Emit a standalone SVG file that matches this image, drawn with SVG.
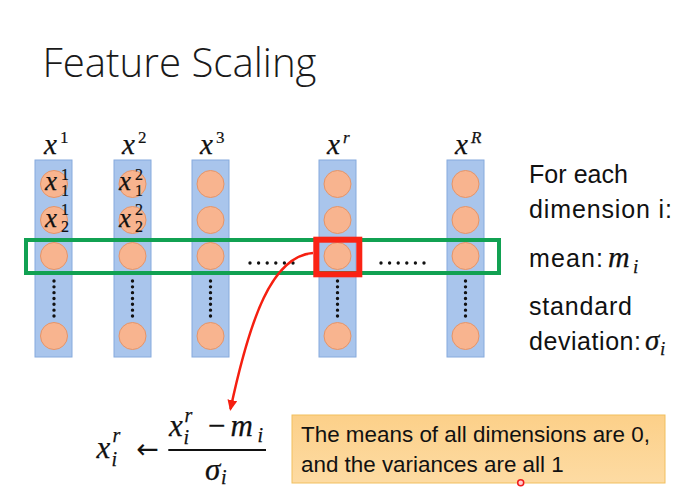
<svg xmlns="http://www.w3.org/2000/svg" width="691" height="499" viewBox="0 0 691 499">
<defs>
<style>
.bar{fill:#a9c5ec;stroke:#86aadd;stroke-width:1}
.node{fill:#f8b48f;stroke:#e59468;stroke-width:1}
.vdots{stroke:#111;stroke-width:3.4;stroke-linecap:round;stroke-dasharray:0 5.83}
.hdots{stroke:#111;stroke-width:3.4;stroke-linecap:round;stroke-dasharray:0 8.6}
.math{font-family:"Liberation Serif","DejaVu Serif",serif;font-style:italic;fill:#111;stroke:#111;stroke-width:0.25}
.num{font-family:"Liberation Serif","DejaVu Serif",serif;font-style:normal;fill:#111;stroke:#111;stroke-width:0.2}
.txt{font-family:"Liberation Sans",Arial,sans-serif;fill:#111}
.lbl{font-size:29px}
.sup{font-size:17px}
.nl{font-size:27px}
.ns{font-size:16px}
</style>
<marker id="ah" markerWidth="11" markerHeight="10" refX="9" refY="5" orient="auto" markerUnits="userSpaceOnUse">
<path d="M0,0 L11,5 L0,10 z" fill="#f51f10"/>
</marker>
<linearGradient id="yg" x1="0" y1="0" x2="0" y2="1">
<stop offset="0" stop-color="#fcd089"/>
<stop offset="1" stop-color="#fddba3"/>
</linearGradient>
</defs>
<rect width="691" height="499" fill="#ffffff"/>

<g id="title">
<text x="42.5" y="76.5" font-size="40" font-weight="300" font-family="'Open Sans','Liberation Sans',sans-serif" textLength="274" lengthAdjust="spacingAndGlyphs" fill="#1a1a1a">Feature Scaling</text>
</g>

<g id="col1">
<rect class="bar" x="35" y="160" width="37" height="197"/>
<circle class="node" cx="54" cy="184" r="13.5"/>
<circle class="node" cx="54" cy="220" r="13.5"/>
<circle class="node" cx="54" cy="256" r="13.5"/>
<circle class="node" cx="54" cy="336" r="13.5"/>
<line class="vdots" x1="54" y1="281" x2="54" y2="316.1"/>
<text class="math lbl" x="44" y="154">x</text><text class="num sup" x="60" y="143">1</text>
<text class="math nl" x="45" y="190">x</text><text class="num ns" x="61" y="180">1</text><text class="num ns" x="61" y="196">1</text>
<text class="math nl" x="45" y="226.5">x</text><text class="num ns" x="61" y="215">1</text><text class="num ns" x="61" y="231.5">2</text>
</g>

<g id="col2">
<rect class="bar" x="114" y="160" width="37" height="197"/>
<circle class="node" cx="132.5" cy="184" r="13.5"/>
<circle class="node" cx="132.5" cy="220" r="13.5"/>
<circle class="node" cx="132.5" cy="256" r="13.5"/>
<circle class="node" cx="132.5" cy="336" r="13.5"/>
<line class="vdots" x1="132.5" y1="281" x2="132.5" y2="316.1"/>
<text class="math lbl" x="122" y="154">x</text><text class="num sup" x="138" y="143">2</text>
<text class="math nl" x="119" y="190">x</text><text class="num ns" x="135" y="180">2</text><text class="num ns" x="135" y="196">1</text>
<text class="math nl" x="119" y="226.5">x</text><text class="num ns" x="135" y="215">2</text><text class="num ns" x="135" y="231.5">2</text>
</g>

<g id="col3">
<rect class="bar" x="192" y="160" width="37" height="197"/>
<circle class="node" cx="210.5" cy="184" r="13.5"/>
<circle class="node" cx="210.5" cy="220" r="13.5"/>
<circle class="node" cx="210.5" cy="256" r="13.5"/>
<circle class="node" cx="210.5" cy="336" r="13.5"/>
<line class="vdots" x1="210.5" y1="281" x2="210.5" y2="316.1"/>
<text class="math lbl" x="200" y="154">x</text><text class="num sup" x="216" y="143">3</text>
</g>

<g id="colr">
<rect class="bar" x="319" y="160" width="37" height="197"/>
<circle class="node" cx="337.5" cy="184" r="13.5"/>
<circle class="node" cx="337.5" cy="220" r="13.5"/>
<circle class="node" cx="337.5" cy="256" r="13.5"/>
<circle class="node" cx="337.5" cy="336" r="13.5"/>
<line class="vdots" x1="337.5" y1="281" x2="337.5" y2="316.1"/>
<text class="math lbl" x="327" y="154">x</text><text class="math sup" x="343" y="143">r</text>
</g>

<g id="colR">
<rect class="bar" x="447" y="160" width="37" height="197"/>
<circle class="node" cx="465.5" cy="184" r="13.5"/>
<circle class="node" cx="465.5" cy="220" r="13.5"/>
<circle class="node" cx="465.5" cy="256" r="13.5"/>
<circle class="node" cx="465.5" cy="336" r="13.5"/>
<line class="vdots" x1="465.5" y1="281" x2="465.5" y2="316.1"/>
<text class="math lbl" x="455" y="154">x</text><text class="math sup" x="471" y="143">R</text>
</g>

<g id="ellipses">
<line class="hdots" x1="250" y1="263" x2="293.2" y2="263"/>
<line class="hdots" x1="381" y1="263" x2="424.2" y2="263"/>
</g>

<g id="dimension-box">
<rect x="26" y="240" width="473" height="33" fill="none" stroke="#11a152" stroke-width="4"/>
</g>

<g id="selected">
<rect x="316.3" y="239.7" width="43" height="34.6" fill="none" stroke="#fa2314" stroke-width="6"/>
</g>

<g id="connectors">
<path d="M313,253 C272,256 250,318 230.5,409" fill="none" stroke="#f51f10" stroke-width="2.5" marker-end="url(#ah)"/>
</g>

<g id="formula">
<text class="math" x="96.5" y="458" font-size="31">x</text>
<text class="math" x="112.5" y="442" font-size="20">r</text>
<text class="math" x="111.5" y="466" font-size="20">i</text>
<text x="147.5" y="458" font-size="27" font-family="DejaVu Sans,sans-serif" text-anchor="middle" fill="#111">←</text>
<line x1="168.3" y1="450" x2="266" y2="450" stroke="#111" stroke-width="1.8"/>
<text class="math" x="169" y="436" font-size="31">x</text>
<text class="math" x="184.5" y="422" font-size="20">r</text>
<text class="math" x="183.5" y="444" font-size="20">i</text>
<text x="216.7" y="436" font-size="31" font-family="Liberation Serif,serif" text-anchor="middle" fill="#111" stroke="#111" stroke-width="0.3">−</text>
<text class="math" x="230.5" y="436" font-size="31">m</text>
<text class="math" x="257.5" y="442" font-size="20">i</text>
<text class="math" x="205" y="480" font-size="31">σ</text>
<text class="math" x="221" y="484" font-size="20">i</text>
</g>

<g id="legend">
<text class="txt" x="529" y="183" font-size="25" textLength="99">For each</text>
<text class="txt" x="529" y="218" font-size="25" textLength="143">dimension i:</text>
<text class="txt" x="529" y="267" font-size="25" textLength="74">mean:</text>
<text class="math" x="608" y="267" font-size="30">m</text>
<text class="math" x="633" y="273" font-size="19">i</text>
<text class="txt" x="529" y="315" font-size="25" textLength="103">standard</text>
<text class="txt" x="529" y="350" font-size="25" textLength="112">deviation:</text>
<text class="math" x="645" y="350" font-size="29">σ</text>
<text class="math" x="660" y="355" font-size="19">i</text>
</g>

<g id="note">
<rect x="292" y="415" width="373" height="68" fill="url(#yg)" stroke="#f1bf5e" stroke-width="1"/>
<text class="txt" x="301" y="442" font-size="22.4" textLength="349">The means of all dimensions are 0,</text>
<text class="txt" x="301" y="472" font-size="22.4">and the variances are all 1</text>
<circle cx="520.7" cy="482.7" r="3" fill="#ffd0d0" stroke="#f01a1a" stroke-width="1.5"/>
</g>
</svg>
